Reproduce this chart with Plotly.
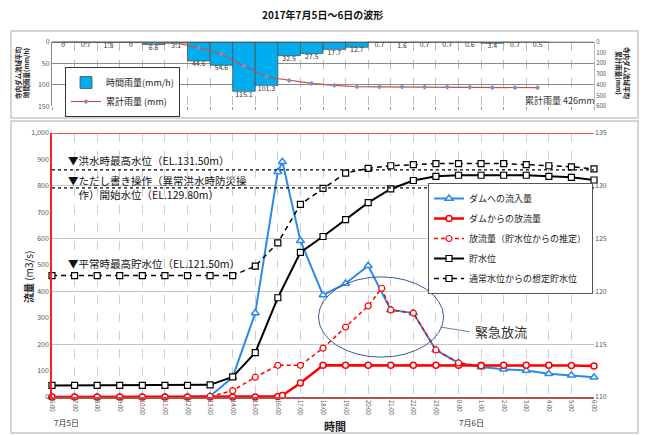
import plotly.graph_objects as go

FONT = "Noto Sans CJK JP"

# ---------------- data ----------------
hours = list(range(25))
tick_labels = ["6:00", "7:00", "8:00", "9:00", "10:00", "11:00", "12:00", "13:00", "14:00",
               "15:00", "16:00", "17:00", "18:00", "19:00", "20:00", "21:00", "22:00", "23:00",
               "0:00", "1:00", "2:00", "3:00", "4:00", "5:00", "6:00"]

# hourly basin rainfall (mm/h), one value per hour column
rain_col = list(range(22))
rain_hourly = [0, 0.7, 1.8, 0, 6.6, 3.1, 44.6, 54.6, 115.1, 101.3, 32.5, 27.5,
               17.7, 12.7, 0.7, 1.6, 0.7, 0.7, 0.6, 3.4, 0.7, 0.5]
rain_cum = [0, 0.7, 2.5, 2.5, 9.1, 12.2, 56.8, 111.4, 226.5, 327.8, 360.3, 387.8,
            405.5, 418.2, 418.9, 420.5, 421.2, 421.9, 422.5, 425.9, 426.6, 427.1]

inflow_t = [0, 1, 2, 3, 4, 5, 6, 7, 8, 9, 10, 10.2, 11, 12, 13, 14, 15, 16, 17, 18, 19, 20, 21, 22, 23, 24]
inflow = [0, 0, 0, 0, 0, 0, 0, 3, 75, 318, 853, 891, 592, 386, 430, 497, 330, 318, 178, 129, 114, 105, 100, 88, 82, 75]

outflow_t = [0, 1, 2, 3, 4, 5, 6, 7, 8, 9, 10, 10.2, 11, 12, 13, 14, 15, 16, 17, 18, 19, 20, 21, 22, 23, 24]
outflow = [0, 0, 0, 0, 0, 0, 0, 0, 0, 0, 2, 6, 53, 120, 120, 120, 120, 120, 120, 120, 120, 120, 120, 120, 119, 117]

est_out_t = [7, 8, 9, 10, 11, 12, 13, 14, 14.6, 15, 16, 17, 18, 19]
est_out = [2, 24, 75, 120, 120, 185, 265, 345, 412, 330, 318, 178, 129, 118]

level = [111.1, 111.1, 111.1, 111.1, 111.1, 111.1, 111.1, 111.15, 111.9, 114.2, 119.4, 123.7, 125.2,
         126.8, 128.4, 129.7, 130.5, 130.9, 131.0, 131.0, 131.0, 131.0, 130.9, 130.8, 130.55]
est_level = [121.5, 121.5, 121.5, 121.5, 121.5, 121.5, 121.5, 121.5, 121.5, 122.4, 124.6, 128.25, 129.75,
             131.2, 131.65, 131.9, 132.0, 132.1, 132.1, 132.1, 132.1, 132.0, 131.9, 131.8, 131.6]

ref_levels = [131.5, 129.8, 121.5]

flow_ticks = [0, 100, 200, 300, 400, 500, 600, 700, 800, 900, 1000]
flow_tick_text = ["0", "100", "200", "300", "400", "500", "600", "700", "800", "900", "1,000"]
lvl_ticks = [110, 115, 120, 125, 130, 135]
rain_ticks = [0, 50, 100, 150]
cum_ticks = [0, 100, 200, 300, 400, 500, 600]

# ---------------- geometry ----------------
W, H = 645, 435
def px(x): return x / W
def py(y): return 1 - y / H

XDOM = [px(52), px(594)]
MAIN_Y = [py(397), py(133)]
TOP_Y = [py(106.3), py(41.7)]

fig = go.Figure()

# ---------- top chart ----------
fig.add_trace(go.Bar(
    x=[c + 0.5 for c in rain_col], y=rain_hourly, width=1,
    marker=dict(color="#00AEEF", line=dict(color="#505050", width=0.8)),
    name="時間雨量(mm/h)", xaxis="x2", yaxis="y3", legend="legend2"))
fig.add_trace(go.Scatter(
    x=[c + 0.5 for c in rain_col], y=rain_hourly, mode="text",
    text=[f"{v:g}" for v in rain_hourly], textposition="bottom center",
    textfont=dict(size=7, color="#333", family=FONT),
    xaxis="x2", yaxis="y3", showlegend=False, hoverinfo="skip", cliponaxis=False))
fig.add_trace(go.Scatter(
    x=[c + 0.5 for c in rain_col], y=rain_cum, mode="lines+markers",
    line=dict(color="#C0504D", width=1.2),
    marker=dict(symbol="diamond", size=4, color="#8C8CB4"),
    name="累計雨量 (mm)", xaxis="x2", yaxis="y4", legend="legend2"))

# ---------- main chart ----------
fig.add_trace(go.Scatter(
    x=inflow_t, y=inflow, mode="lines+markers", name="ダムへの流入量",
    line=dict(color="#2A8AE6", width=2),
    marker=dict(symbol="triangle-up", size=7, color="white", line=dict(color="#2A8AE6", width=1.5)),
    legendgroup="a", cliponaxis=False))
fig.add_trace(go.Scatter(
    x=outflow_t, y=outflow, mode="lines+markers", name="ダムからの放流量",
    line=dict(color="#FF0000", width=2.5),
    marker=dict(symbol="circle", size=6, color="white", line=dict(color="#FF0000", width=1.5)),
    legendgroup="b", cliponaxis=False))
fig.add_trace(go.Scatter(
    x=est_out_t, y=est_out, mode="lines+markers", name="放流量（貯水位からの推定）",
    line=dict(color="#FF0000", width=1.5, dash="4px,3px"),
    marker=dict(symbol="circle", size=6, color="white", line=dict(color="#FF0000", width=1.2)),
    legendgroup="c", cliponaxis=False))
fig.add_trace(go.Scatter(
    x=hours, y=level, mode="lines+markers", name="貯水位", yaxis="y2",
    line=dict(color="#000000", width=2),
    marker=dict(symbol="square", size=6, color="white", line=dict(color="#000000", width=1.2)),
    legendgroup="d", cliponaxis=False))
fig.add_trace(go.Scatter(
    x=hours, y=est_level, mode="lines+markers", name="通常水位からの想定貯水位", yaxis="y2",
    line=dict(color="#000000", width=1.5, dash="5px,4px"),
    marker=dict(symbol="square", size=6, color="white", line=dict(color="#000000", width=1.2)),
    legendgroup="e", cliponaxis=False))

tickfont = dict(size=7, color="#555", family=FONT)

fig.update_layout(
    width=W, height=H, margin=dict(l=0, r=0, t=0, b=0, autoexpand=False),
    paper_bgcolor="white", plot_bgcolor="white",
    font=dict(family=FONT, color="#222"),
    barmode="overlay",
    xaxis=dict(domain=XDOM, range=[0, 24], tickvals=hours, ticktext=tick_labels,
               tickangle=90, tickfont=dict(size=6, color="#555", family=FONT),
               showgrid=True, gridcolor="#cfcfcf", griddash="dash", gridwidth=1,
               showline=True, linecolor="#B05050", linewidth=1.5, zeroline=False,
               ticks="", anchor="y", automargin=False),
    yaxis=dict(domain=MAIN_Y, range=[0, 1000], tickvals=flow_ticks, ticktext=flow_tick_text,
               tickfont=tickfont, showgrid=False, showline=True, linecolor="#FF2020",
               linewidth=1.5, zeroline=False, ticks="", anchor="x", automargin=False),
    yaxis2=dict(overlaying="y", side="right", range=[110, 135], tickvals=lvl_ticks,
                tickfont=tickfont, showgrid=True, gridcolor="#c4c4c4", zeroline=False,
                ticks="", anchor="x", automargin=False),
    xaxis2=dict(domain=XDOM, range=[0, 24], dtick=1, tick0=0, showticklabels=False,
                showgrid=True, gridcolor="#bdbdbd", griddash="dash", ticks="outside",
                ticklen=3, tickcolor="#999", zeroline=False, anchor="y3", automargin=False),
    yaxis3=dict(domain=TOP_Y, range=[150, 0], tickvals=rain_ticks, tickfont=tickfont,
                showgrid=True, gridcolor="#8a8a8a", showline=True, linecolor="#8a8a8a",
                zeroline=False, ticks="", anchor="x2", automargin=False),
    yaxis4=dict(overlaying="y3", side="right", range=[600, 0], tickvals=cum_ticks,
                tickfont=dict(size=6, color="#555", family=FONT), showgrid=False,
                showline=True, linecolor="#bbbbbb", zeroline=False, ticks="", anchor="x2",
                automargin=False),
    legend=dict(x=px(593), y=py(183), xanchor="right", yanchor="top",
                bgcolor="white", bordercolor="#555", borderwidth=1,
                font=dict(size=9, family=FONT, color="#222"), tracegroupgap=1,
                itemwidth=30),
    legend2=dict(x=px(65), y=py(67), xanchor="left", yanchor="top",
                 bgcolor="white", bordercolor="#333", borderwidth=1,
                 font=dict(size=9, family=FONT, color="#222"), itemwidth=30),
)

shapes = []
# outer frames
shapes.append(dict(type="rect", xref="paper", yref="paper", x0=px(11), x1=px(638),
                   y0=py(118), y1=py(31), line=dict(color="#c8c8c8", width=1.5)))
shapes.append(dict(type="rect", xref="paper", yref="paper", x0=px(11), x1=px(638),
                   y0=py(433), y1=py(121), line=dict(color="#c8c8c8", width=1.5)))
# red top border of main plot
shapes.append(dict(type="line", xref="x", yref="y", x0=0, x1=24, y0=1000, y1=1000,
                   line=dict(color="#FF2020", width=1.5)))
# dark top line of rain chart
shapes.append(dict(type="line", xref="x2", yref="y3", x0=0, x1=24, y0=0, y1=0,
                   line=dict(color="#555", width=2)))
# reference water levels
for lv in ref_levels[:2]:
    shapes.append(dict(type="line", xref="x", yref="y2", x0=0, x1=24, y0=lv, y1=lv,
                       line=dict(color="#000", width=1.2, dash="dot")))
# emergency release ellipse and connector
shapes.append(dict(type="circle", xref="x", yref="y", x0=11.8, x1=17.34, y0=151, y1=455,
                   line=dict(color="#3A5A9A", width=1)))
shapes.append(dict(type="line", xref="x", yref="y", x0=17.2, x1=18.5, y0=265, y1=247,
                   line=dict(color="#6A7FA8", width=1)))
fig.update_layout(shapes=shapes)

ann = []
def A(**kw):
    kw.setdefault("showarrow", False)
    kw.setdefault("xanchor", "center")
    kw.setdefault("yanchor", "middle")
    ann.append(kw)

A(text="<b>2017年7月5日～6日の波形</b>", xref="paper", yref="paper",
  x=0.5, y=py(14), font=dict(size=10, family=FONT, color="#111"))
A(text="<b>寺内ダム流域平均<br>時間雨量(mm/h)</b>", xref="paper", yref="paper",
  x=px(22), y=py(73), textangle=-90, font=dict(size=6.5, family=FONT, color="#222"))
A(text="<b>寺内ダム流域平均<br>累計雨量(mm)</b>", xref="paper", yref="paper",
  x=px(623), y=py(73), textangle=90, font=dict(size=6.5, family=FONT, color="#222"))
A(text="累計雨量 426mm", xref="paper", yref="paper", x=px(597), y=py(101),
  xanchor="right", font=dict(size=9, family=FONT, color="#333"))
A(text="<b>流量</b> (m3/s)", xref="paper", yref="paper", x=px(28), y=py(277),
  textangle=-90, font=dict(size=10, family=FONT, color="#222"))
A(text="<b>時間</b>", xref="paper", yref="paper", x=px(322), y=py(426),
  xanchor="left", font=dict(size=11, family=FONT, color="#222"))
A(text="7月5日", xref="paper", yref="paper", x=px(52), y=py(422),
  xanchor="left", font=dict(size=8, family=FONT, color="#333"))
A(text="7月6日", xref="paper", yref="paper", x=px(457), y=py(422),
  xanchor="left", font=dict(size=8, family=FONT, color="#333"))
lvl_font = dict(size=10.5, family=FONT, color="#111")
A(text="▼洪水時最高水位（EL.131.50m）", xref="paper", yref="y2", x=px(66),
  y=ref_levels[0], xanchor="left", yanchor="bottom", yshift=0, font=lvl_font)
A(text="▼ただし書き操作（異常洪水時防災操<br>　作）開始水位（EL.129.80m）", xref="paper",
  yref="y2", x=px(66), y=ref_levels[1], xanchor="left", yanchor="middle",
  align="left", font=lvl_font)
A(text="▼平常時最高貯水位（EL.121.50m）", xref="paper", yref="y2", x=px(66),
  y=ref_levels[2], xanchor="left", yanchor="bottom", yshift=3, font=lvl_font)
A(text="緊急放流", xref="x", yref="y", x=18.65, y=247, xanchor="left",
  font=dict(size=13, family=FONT, color="#333"))
fig.update_layout(annotations=ann)

fig.write_html("out.html", config={"displayModeBar": False},
               post_script="document.body.style.margin='0px';")
